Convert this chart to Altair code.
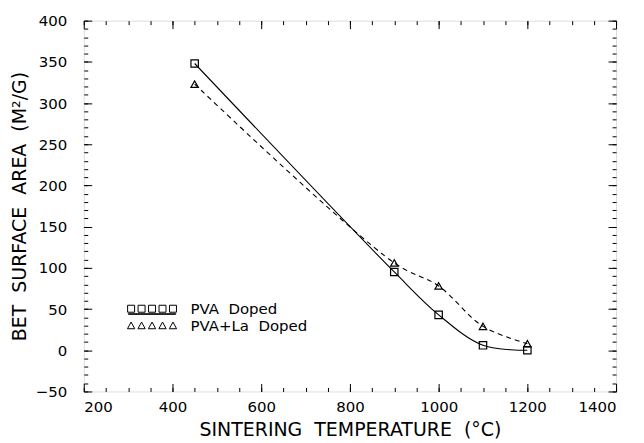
import altair as alt
import pandas as pd

# ---- data ----
series_names = ["PVA\u00a0\u00a0Doped", "PVA+La\u00a0\u00a0Doped"]
temps_pva = [450, 900, 1000, 1100, 1200]
area_pva = [348, 95, 43, 6, 0]
temps_la = [450, 900, 1000, 1100, 1200]
area_la = [323, 106, 78, 29, 8]

x_major = [200, 400, 600, 800, 1000, 1200, 1400]
x_minor = list(range(200, 1401, 50))
y_major = [-50, 0, 50, 100, 150, 200, 250, 300, 350, 400]
y_minor = list(range(-50, 401, 10))

df = pd.DataFrame({
    "temp": temps_pva + temps_la,
    "area": area_pva + area_la,
    "series": [series_names[0]] * len(temps_pva) + [series_names[1]] * len(temps_la),
})
df_pva = df[df.series == series_names[0]]
df_la = df[df.series == series_names[1]]

W, H = 534, 372
FONT = "DejaVu Sans"
SP = "\u00a0\u00a0"

# legend symbols: five squares over a solid line / five triangles
centers = [-0.75, -0.375, 0.0, 0.375, 0.75]
sq_path = "".join(f"M{c-0.125},-0.125L{c+0.125},-0.125L{c+0.125},0.125L{c-0.125},0.125Z"
                  for c in centers) + "M-0.85,0.18L0.85,0.18L0.85,0.2L-0.85,0.2Z"
tri_path = "".join(f"M{c-0.13},0.11L{c},-0.13L{c+0.13},0.11Z" for c in centers)

xs = alt.Scale(domain=[200, 1400], nice=False, zero=False)
ys = alt.Scale(domain=[-50, 400], nice=False, zero=False)


def tick_axis(orient, values, size, offset):
    return alt.Axis(orient=orient, values=values, tickSize=size, offset=offset,
                    labels=False, title=None, domain=False, grid=False,
                    ticks=True, tickColor="black", tickWidth=1)


x_main = alt.Axis(orient="bottom", values=x_major, ticks=False, domain=False, grid=False,
                  format="d", labelPadding=8, labelFont=FONT, labelFontSize=15,
                  labelColor="black",
                  title=f"SINTERING{SP}TEMPERATURE{SP}(°C)", titleFont=FONT, titleFontSize=19,
                  titleFontWeight="normal", titleColor="black", titleBaseline="alphabetic",
                  titleY=44)
y_main = alt.Axis(orient="left", values=y_major, ticks=False, domain=False, grid=False,
                  labelPadding=17, labelFont=FONT, labelFontSize=15, labelColor="black",
                  title=f"BET{SP}SURFACE{SP}AREA{SP}(M²/G)", titleFont=FONT, titleFontSize=19,
                  titleFontWeight="normal", titleColor="black", titleBaseline="alphabetic",
                  titleX=-58, titleY=H / 2, titleAngle=-90)

INTERP = "catmull-rom"

line_pva = alt.Chart(df_pva).mark_line(color="black", strokeWidth=1.1, interpolate=INTERP).encode(
    x=alt.X("temp:Q", scale=xs, axis=x_main),
    y=alt.Y("area:Q", scale=ys, axis=y_main),
)
line_la = alt.Chart(df_la).mark_line(color="black", strokeWidth=1.1, strokeDash=[5, 4],
                                     interpolate=INTERP).encode(
    x=alt.X("temp:Q", scale=xs, axis=tick_axis("top", x_major, 8, -H)),
    y=alt.Y("area:Q", scale=ys, axis=tick_axis("right", y_major, 8, -W)),
)
pts_pva = alt.Chart(df_pva).mark_point(shape="square", size=55, filled=False, color="black",
                                       strokeWidth=1.2, opacity=1).encode(
    x=alt.X("temp:Q", scale=xs, axis=tick_axis("top", x_minor, 4, -H)),
    y=alt.Y("area:Q", scale=ys, axis=tick_axis("right", y_minor, 4, -W)),
)
pts_la = alt.Chart(df_la).mark_point(shape="triangle-up", size=55, filled=False, color="black",
                                     strokeWidth=1.2, opacity=1).encode(
    x=alt.X("temp:Q", scale=xs, axis=tick_axis("bottom", x_major, 8, -H)),
    y=alt.Y("area:Q", scale=ys, axis=tick_axis("left", y_major, 8, -W)),
)
legend_layer = alt.Chart(df).mark_point(filled=False, strokeWidth=1).encode(
    x=alt.X("temp:Q", scale=xs, axis=tick_axis("bottom", x_minor, 4, -H)),
    y=alt.Y("area:Q", scale=ys, axis=tick_axis("left", y_minor, 4, -W)),
    shape=alt.Shape("series:N",
                    scale=alt.Scale(domain=series_names, range=[sq_path, tri_path]),
                    legend=alt.Legend(orient="none", legendX=40, legendY=281, title=None,
                                      labelFont=FONT, labelFontSize=15, labelColor="black",
                                      labelOffset=10, labelLimit=300, symbolSize=3136,
                                      symbolStrokeWidth=1, symbolStrokeColor="black",
                                      symbolFillColor="transparent", symbolOpacity=1,
                                      clipHeight=16, rowPadding=1, padding=0)),
    color=alt.value("black"),
    opacity=alt.value(0),
)

chart = alt.layer(line_pva, line_la, pts_pva, pts_la, legend_layer).resolve_axis(
    x="independent", y="independent"
).properties(
    width=W, height=H,
    autosize=alt.AutoSizeParams(type="none"),
    padding={"left": 76, "top": 12, "right": 20, "bottom": 50},
).configure_view(stroke="black", strokeWidth=1.3).configure(background="white")

chart.save("out.html", embed_options={"renderer": "svg", "actions": False})
